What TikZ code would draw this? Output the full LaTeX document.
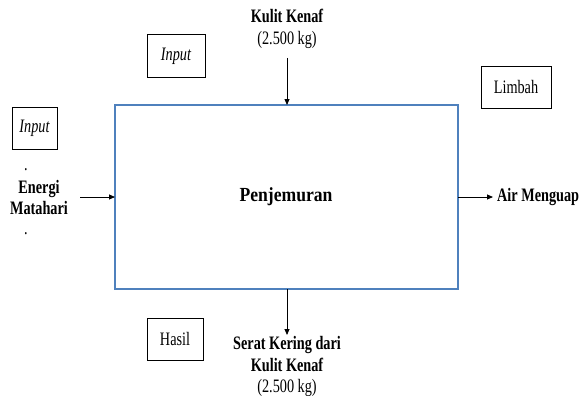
\documentclass[tikz,border=0pt]{standalone}
\usepackage{fontspec}
\setmainfont{Liberation Serif}
\usepackage{graphicx}
\usetikzlibrary{arrows.meta}
\definecolor{procblue}{HTML}{4F81BD}
% narrow, tall lettering used throughout
\newcommand{\nar}[1]{\scalebox{0.75}[1]{#1}}
\tikzset{
  x=1pt, y=-1pt,
  lbl/.style={inner sep=0pt, font=\fontsize{19}{23}\selectfont, align=center},
  tagbox/.style={draw, line width=0.8pt},
  flow/.style={-{Triangle[length=6pt,width=5pt]}, line width=0.8pt},
}
\begin{document}
\begin{tikzpicture}
\useasboundingbox (0,0) rectangle (586,396);

% main process block
\draw[procblue, line width=2pt] (115,105) rectangle (458,289);
\node[lbl] (proc) at (286,197) {\scalebox{0.88}[1]{\fontsize{20}{24}\selectfont\bfseries Penjemuran}};
\coordinate (pW) at (115,197);
\coordinate (pE) at (458,197);
\coordinate (pN) at (287,105);
\coordinate (pS) at (287,289);

% category tags
\draw[tagbox] (147,34) rectangle (205,77);
\node[lbl] (tagin1) at (176,56) {\nar{\itshape Input}};
\draw[tagbox] (12,107) rectangle (57,149);
\node[lbl] (tagin2) at (34.5,128) {\nar{\itshape Input}};
\draw[tagbox] (481,66) rectangle (551,108);
\node[lbl] (taglim) at (516,87) {\nar{Limbah}};
\draw[tagbox] (147,318) rectangle (203,360);
\node[lbl] (taghas) at (175,339) {\nar{Hasil}};

% inputs
\node[lbl] (kulit) at (287,29) {\nar{\bfseries Kulit Kenaf}\\[-1pt]\nar{(2.500 kg)}};
\coordinate (kulitA) at (287,58);
\draw[flow] (kulitA) -- (pN);

\node[lbl, anchor=base] (dot1) at (26,170) {\nar{.}};
\node[lbl] (energi) at (39,197) {\nar{\bfseries Energi}\\[-2pt]\nar{\bfseries Matahari}};
\node[lbl, anchor=base] (dot2) at (26,234) {\nar{.}};
\coordinate (energiA) at (80,197);
\draw[flow] (energiA) -- (pW);

% outputs
\node[lbl, anchor=west] (air) at (497,197) {\nar{\bfseries Air Menguap}};
\draw[flow] (pE) -- (air.west -| 493,0);

\node[lbl] (serat) at (287,366) {\nar{\bfseries Serat Kering dari}\\[-1pt]\nar{\bfseries Kulit Kenaf}\\[-2pt]\nar{(2.500 kg)}};
\coordinate (seratA) at (287,335);
\draw[flow] (pS) -- (seratA);
\end{tikzpicture}
\end{document}
